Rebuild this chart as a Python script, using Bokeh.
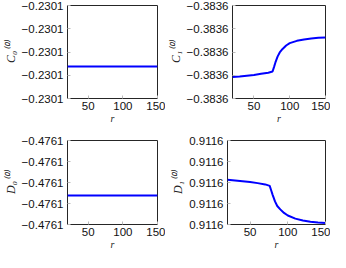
from bokeh.plotting import figure
from bokeh.layouts import column, row
from bokeh.models import Range1d, FixedTicker, CustomJSTickFormatter
from bokeh.embed import file_html
from bokeh.resources import INLINE

# ---- data ----
r_flat = [20, 150]
c0_vals = [-0.2301062, -0.2301062]
d0_vals = [-0.4761062, -0.4761062]

r_curve = [20, 30, 40, 50, 60, 70, 76, 78, 80, 83, 86, 90, 95, 100, 110, 120, 130, 140, 150]
c1_vals = [-0.3836107, -0.3836105, -0.3836102, -0.3836099, -0.3836094, -0.3836089,
           -0.3836084, -0.3836065, -0.3836045, -0.3836020, -0.3836002, -0.3835987,
           -0.3835972, -0.3835962, -0.3835952, -0.3835946, -0.3835942, -0.3835939,
           -0.3835938]
d1_vals = [0.9116013, 0.9116010, 0.9116006, 0.9116002, 0.9115997, 0.9115991,
           0.9115984, 0.9115962, 0.9115940, 0.9115910, 0.9115888, 0.9115872,
           0.9115855, 0.9115843, 0.9115828, 0.9115819, 0.9115813, 0.9115809,
           0.9115807]

c0_ticks = [-0.23012, -0.23011, -0.23010, -0.23009, -0.23008]
c1_ticks = [-0.38362, -0.38361, -0.38360, -0.38359, -0.38358]
d0_ticks = [-0.47612, -0.47611, -0.47610, -0.47609, -0.47608]
d1_ticks = [0.91158, 0.91159, 0.91160, 0.91161, 0.91162]
x_ticks = [50, 100, 150]

labels = ["C\u2080\u207d\u2070\u207e", "C\u2081\u207d\u2070\u207e",
          "D\u2080\u207d\u2070\u207e", "D\u2081\u207d\u2070\u207e"]

fmt_code = "return tick.toFixed(4).replace('-', '\u2212');"


def make(x, y, yticks, ylabel, bl, br, bt, bb, w, h):
    p = figure(width=w, height=h, output_backend="svg", toolbar_location=None,
               x_range=Range1d(20, 150), y_range=Range1d(yticks[0], yticks[-1]),
               min_border_left=bl, min_border_right=br, min_border_top=bt,
               min_border_bottom=bb)
    p.line(x, y, line_color="#0000ff", line_width=2)
    p.xgrid.visible = False
    p.ygrid.visible = False
    p.outline_line_color = "#262626"
    p.outline_line_width = 1
    p.background_fill_color = "white"
    p.border_fill_color = "white"
    for ax in (p.xaxis[0], p.yaxis[0]):
        ax.axis_line_color = None
        ax.major_tick_in = 3
        ax.major_tick_out = 0
        ax.major_tick_line_color = "#bbbbbb"
        ax.minor_tick_line_color = None
        ax.major_label_text_font = "Liberation Sans"
        ax.major_label_text_font_size = "11.5px"
        ax.major_label_text_color = "#111111"
        ax.axis_label_text_font = "Liberation Serif"
        ax.axis_label_text_font_style = "italic"
        ax.axis_label_text_color = "#222222"
    p.xaxis.ticker = FixedTicker(ticks=x_ticks)
    p.yaxis.ticker = FixedTicker(ticks=yticks)
    p.yaxis.formatter = CustomJSTickFormatter(code=fmt_code)
    p.xaxis.axis_label = "r"
    p.xaxis.axis_label_text_font_size = "10px"
    p.xaxis.axis_label_standoff = 0
    p.xaxis.major_label_standoff = 3
    p.yaxis.axis_label = ylabel
    p.yaxis.axis_label_text_font_size = "12px"
    p.yaxis.axis_label_standoff = 1
    p.yaxis.major_label_standoff = 4
    return p


p1 = make(r_flat, c0_vals, c0_ticks, labels[0], 60, 8, 5, 26, 165, 126)
p2 = make(r_curve, c1_vals, c1_ticks, labels[1], 62, 5, 5, 26, 165, 126)
p3 = make(r_flat, d0_vals, d0_ticks, labels[2], 60, 8, 14, 18, 165, 126)
p4 = make(r_curve, d1_vals, d1_ticks, labels[3], 62, 5, 14, 18, 165, 126)

layout = column(row(p1, p2, spacing=0), row(p3, p4, spacing=0), spacing=0)

open("out.html", "w").write(file_html(layout, INLINE))
